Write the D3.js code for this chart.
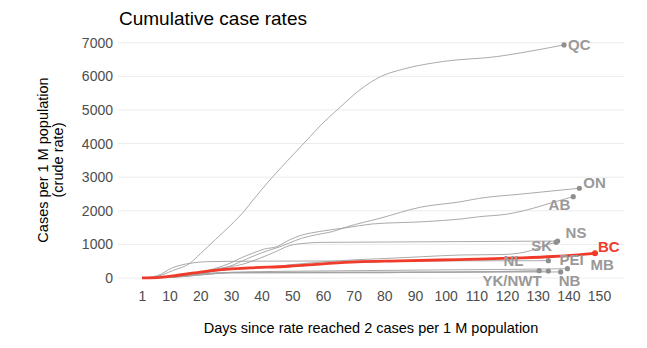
<!DOCTYPE html>
<html>
<head>
<meta charset="utf-8">
<script src="https://cdn.jsdelivr.net/npm/d3@7"></script>
<style>
  html, body { margin: 0; padding: 0; background: #fff; }
  svg { display: block; font-family: "Liberation Sans", Arial, sans-serif; }
</style>
</head>
<body>
<svg id="chart" width="647" height="348"></svg>
<script>
// ---- data: [day, cases per 1 M population] ----
const QC = [[1,2],[6,50],[11,220],[16.6,437],[20,720],[25,1150],[30,1580],[34.6,2020],[37.2,2320],[42.7,2917],[50.2,3660],[55.8,4205],[59,4520],[65.6,5080],[72,5595],[79,6000],[86,6210],[99,6440],[117,6590],[124,6690],[138.6,6935]];
const ON = [[1,2],[6,8],[11,30],[20,115],[25,225],[30,360],[35,560],[40,750],[46,931],[49,1040],[53,1180],[58,1290],[63,1378],[68,1527],[78.6,1777],[92,2110],[105,2270],[111,2370],[125,2500],[143.6,2670]];
const AB = [[1,2],[6,10],[11,40],[20,170],[25,290],[30,450],[33,586],[37,735],[41,863],[45,932],[49,1131],[52.5,1259],[60,1399],[68,1500],[76,1607],[93,1676],[105,1756],[111,1824],[120,1900],[128.5,2074],[135,2250],[141.6,2420]];
const NS = [[1,2],[6,10],[11,40],[20,170],[27,300],[33,390],[39.5,590],[45,800],[49,960],[55,1040],[60,1060],[80,1070],[100,1080],[120,1090],[136.5,1100]];
const SK = [[1,2],[6,12],[11,60],[20,170],[30,250],[40,300],[50,400],[60,480],[70,540],[80,580],[92.6,634],[104.7,684],[119,700],[128.5,833],[132,960],[136,1060]];
const BC = [[1,2],[6,12],[11,60],[18,150],[24,220],[30,270],[36,300],[49,350],[60,420],[71,480],[85,510],[98,536],[110,560],[125,600],[135,640],[142,680],[148.7,735]];
const NL = [[1,2],[6,70],[11,306],[16.6,437],[22,485],[36,500],[60,505],[100,510],[133.5,515]];
const PEI = [[1,2],[10,40],[20,120],[30,165],[40,170],[100,175],[120,190],[133.5,208]];
const MB = [[1,2],[10,15],[20,90],[30,170],[40,190],[60,210],[98,240],[120,255],[139.7,277]];
const YKNWT = [[1,2],[10,60],[20,130],[30,160],[100,175],[130.5,217]];
const NB = [[1,2],[10,20],[20,90],[30,150],[80,155],[90,170],[137.5,180]];

const seriesNames = ["QC","ON","AB","NS","SK","NL","PEI","MB","YK/NWT","NB","BC"];
const seriesData = {QC, ON, AB, NS, SK, BC, NL, PEI, MB, "YK/NWT": YKNWT, NB};

const xTicks = [1,10,20,30,40,50,60,70,80,90,100,110,120,130,140,150];
const yTicks = [0,1000,2000,3000,4000,5000,6000,7000];

// label placement relative to the end point (styling only)
const labelPlace = {
  "QC":     {dx: 4,   dy: 0,    anchor: "start"},
  "ON":     {dx: 4,   dy: -6,   anchor: "start"},
  "AB":     {dx: -3,  dy: 8,    anchor: "end"},
  "NS":     {dx: 8,   dy: -9,   anchor: "start"},
  "SK":     {dx: -4,  dy: 3,    anchor: "end"},
  "BC":     {dx: 3,   dy: -7,   anchor: "start"},
  "NL":     {dx: -25, dy: 0,    anchor: "end"},
  "PEI":    {dx: 11,  dy: -12,  anchor: "start"},
  "MB":     {dx: 23,  dy: -4,   anchor: "start"},
  "YK/NWT": {dx: 2.5, dy: 9.5,  anchor: "end"},
  "NB":     {dx: -2,  dy: 9,    anchor: "start"}
};

const svg = d3.select("#chart");
const x = d3.scaleLinear().domain([1,150]).range([142,599]);
const y = d3.scaleLinear().domain([0,7000]).range([278,42.7]);
const gridX0 = 118, gridX1 = 624;

const gray = "#a0a0a0", labelGray = "#999999", red = "#f03b2b";

// gridlines
svg.append("g").selectAll("line").data(yTicks).join("line")
  .attr("x1", gridX0).attr("x2", gridX1)
  .attr("y1", d => y(d)).attr("y2", d => y(d))
  .attr("stroke", "#ececec").attr("stroke-width", 1);

// y axis
const yAxis = svg.append("g").attr("transform", `translate(${gridX0},0)`)
  .call(d3.axisLeft(y).tickValues(yTicks).tickSize(0).tickPadding(5).tickFormat(d3.format("d")));
yAxis.select(".domain").remove();
yAxis.selectAll("text").attr("fill", "#4d4d4d").style("font-size", "14px");

// x axis
const xAxis = svg.append("g").attr("transform", `translate(0,291)`)
  .call(d3.axisBottom(x).tickValues(xTicks).tickSize(0).tickPadding(0).tickFormat(d3.format("d")));
xAxis.select(".domain").remove();
xAxis.selectAll("text").attr("fill", "#4d4d4d").style("font-size", "14px").attr("dy", "0.71em");

const line = d3.line().x(d => x(d[0])).y(d => y(d[1])).curve(d3.curveMonotoneX);

// lines
const gLines = svg.append("g");
seriesNames.forEach(name => {
  const isBC = name === "BC";
  gLines.append("path")
    .datum(seriesData[name])
    .attr("d", line)
    .attr("fill", "none")
    .attr("stroke", isBC ? red : gray)
    .attr("stroke-width", isBC ? 2.8 : 0.9)
    .attr("stroke-linejoin", "round");
});

// end points
seriesNames.forEach(name => {
  const isBC = name === "BC";
  const last = seriesData[name][seriesData[name].length - 1];
  svg.append("circle")
    .attr("cx", x(last[0])).attr("cy", y(last[1]))
    .attr("r", isBC ? 3 : 2.6)
    .attr("fill", isBC ? red : "#8f8f8f");
});

// labels
seriesNames.forEach(name => {
  const isBC = name === "BC";
  const last = seriesData[name][seriesData[name].length - 1];
  const p = labelPlace[name];
  svg.append("text")
    .attr("x", x(last[0]) + p.dx).attr("y", y(last[1]) + p.dy)
    .attr("text-anchor", p.anchor)
    .attr("dominant-baseline", "central")
    .attr("fill", isBC ? red : labelGray)
    .style("font-size", "15px").style("font-weight", "bold")
    .text(name);
});

// title
svg.append("text").attr("x", 119).attr("y", 25)
  .style("font-size", "19px").attr("fill", "#000")
  .text("Cumulative case rates");

// axis titles
svg.append("text").attr("x", 371).attr("y", 333)
  .attr("text-anchor", "middle").style("font-size", "14.5px").attr("fill", "#000")
  .text("Days since rate reached 2 cases per 1 M population");

const yt = svg.append("text").attr("transform", "translate(48,160) rotate(-90)")
  .attr("text-anchor", "middle").style("font-size", "14.5px").attr("fill", "#000");
yt.append("tspan").attr("x", 0).attr("dy", 0).text("Cases per 1 M population");
yt.append("tspan").attr("x", 0).attr("dy", "1.05em").text("(crude rate)");
</script>
</body>
</html>
